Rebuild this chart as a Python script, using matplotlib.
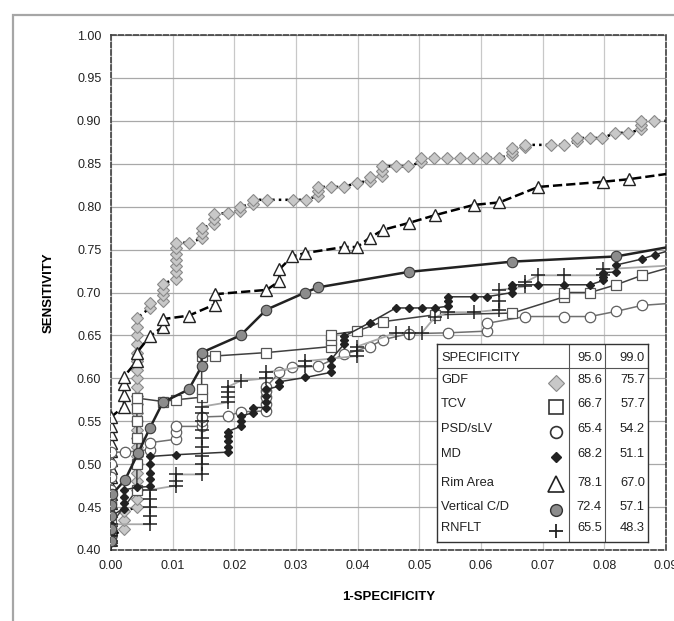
import matplotlib
matplotlib.use("Agg")
import matplotlib.pyplot as plt
from matplotlib.patches import Rectangle

plt.rcParams['font.family'] = ['Liberation Sans', 'DejaVu Sans']

# ROC points (1-specificity, sensitivity)
gdf_x = [0.0, 0.0021, 0.0021, 0.0021,
         0.0042, 0.0042, 0.0042, 0.0042, 0.0042, 0.0042, 0.0042, 0.0042, 0.0042, 0.0042, 0.0042, 0.0042,
         0.0042, 0.0042, 0.0042, 0.0042, 0.0042, 0.0042, 0.0042, 0.0042, 0.0042, 0.0042, 0.0042,
         0.0063, 0.0063, 0.0084, 0.0084, 0.0084, 0.0084,
         0.0105, 0.0105, 0.0105, 0.0105, 0.0105, 0.0105, 0.0105,
         0.0127, 0.0147, 0.0147, 0.0147, 0.0167, 0.0167, 0.0167, 0.019, 0.0209, 0.0209,
         0.023, 0.023, 0.0253, 0.0295, 0.0316, 0.0336, 0.0336, 0.0336, 0.0357, 0.0378,
         0.0399, 0.042, 0.042, 0.044, 0.044, 0.044, 0.0462, 0.0482, 0.0503, 0.0503,
         0.0524, 0.0545, 0.0566, 0.0587, 0.0608, 0.0629, 0.065, 0.065, 0.065, 0.0671, 0.0671,
         0.0713, 0.0734, 0.0755, 0.0755, 0.0776, 0.0797, 0.0818, 0.0839,
         0.086, 0.086, 0.086, 0.0881, 0.092]
gdf_y = [0.415, 0.425, 0.435, 0.445,
         0.45, 0.46, 0.47, 0.48, 0.49, 0.50, 0.51, 0.52, 0.53, 0.54, 0.55, 0.56,
         0.57, 0.58, 0.59, 0.60, 0.61, 0.62, 0.63, 0.64, 0.65, 0.66, 0.67,
         0.682, 0.688, 0.69, 0.697, 0.703, 0.71,
         0.716, 0.724, 0.731, 0.738, 0.745, 0.752, 0.758,
         0.758, 0.763, 0.769, 0.775, 0.78, 0.786, 0.791, 0.793, 0.795, 0.80,
         0.803, 0.808, 0.808, 0.808, 0.808, 0.813, 0.818, 0.823, 0.823, 0.823,
         0.828, 0.83, 0.834, 0.836, 0.841, 0.847, 0.847, 0.847, 0.852, 0.857,
         0.857, 0.857, 0.857, 0.857, 0.857, 0.857, 0.86, 0.864, 0.868, 0.869, 0.872,
         0.872, 0.872, 0.876, 0.88, 0.88, 0.88, 0.886, 0.886,
         0.89, 0.895, 0.90, 0.90, 0.90]

rim_x = [0.0, 0.0, 0.0, 0.0, 0.0, 0.0, 0.0, 0.0, 0.0, 0.0, 0.0, 0.0, 0.0, 0.0, 0.0,
         0.0021, 0.0021, 0.0021, 0.0021, 0.0042, 0.0042, 0.0063, 0.0084, 0.0084,
         0.0126, 0.0168, 0.0168, 0.0252, 0.0273, 0.0273, 0.0294, 0.0315, 0.0378, 0.0399,
         0.042, 0.0441, 0.0483, 0.0525, 0.0588, 0.063, 0.0693, 0.0798, 0.084, 0.092]
rim_y = [0.415, 0.425, 0.435, 0.445, 0.455, 0.465, 0.475, 0.485, 0.495, 0.505, 0.515, 0.525, 0.535, 0.545, 0.555,
         0.567, 0.581, 0.593, 0.602, 0.62, 0.63, 0.649, 0.66, 0.669,
         0.673, 0.686, 0.698, 0.703, 0.713, 0.727, 0.742, 0.746, 0.753, 0.753,
         0.764, 0.773, 0.781, 0.79, 0.802, 0.805, 0.823, 0.829, 0.832, 0.840]

vcd_x = [0.0, 0.0, 0.0, 0.0, 0.0002, 0.0023, 0.0044, 0.0063, 0.0084, 0.0126, 0.0147, 0.0147,
         0.021, 0.0252, 0.0315, 0.0336, 0.0483, 0.0651, 0.0819, 0.092]
vcd_y = [0.41, 0.425, 0.44, 0.452, 0.465, 0.482, 0.513, 0.542, 0.572, 0.587, 0.614, 0.63,
         0.65, 0.68, 0.70, 0.706, 0.724, 0.736, 0.742, 0.755]

tcv_x = [0.0, 0.0, 0.0042, 0.0042, 0.0042, 0.0042, 0.0042, 0.0042, 0.0084, 0.0105,
         0.0147, 0.0147, 0.0147, 0.0168, 0.0252, 0.0357, 0.0357, 0.0357, 0.0399, 0.0441,
         0.0525, 0.0651, 0.0735, 0.0735, 0.0777, 0.0819, 0.0861, 0.092]
tcv_y = [0.41, 0.43, 0.47, 0.50, 0.53, 0.55, 0.565, 0.577, 0.573, 0.575,
         0.578, 0.588, 0.626, 0.626, 0.63, 0.637, 0.645, 0.651, 0.655, 0.666,
         0.674, 0.676, 0.695, 0.70, 0.70, 0.709, 0.72, 0.732]

psd_x = [0.0, 0.0, 0.0, 0.0, 0.0, 0.0, 0.0, 0.0, 0.0023, 0.0063, 0.0063,
         0.0105, 0.0105, 0.0105, 0.0147, 0.0147, 0.0147, 0.019, 0.021,
         0.0252, 0.0252, 0.0252, 0.0252, 0.0252, 0.0273, 0.0294, 0.0336, 0.0378,
         0.042, 0.0441, 0.0483, 0.0546, 0.0609, 0.0609, 0.0672, 0.0735, 0.0777,
         0.0819, 0.0861, 0.092]
psd_y = [0.41, 0.425, 0.44, 0.455, 0.47, 0.485, 0.50, 0.514, 0.514, 0.517, 0.525,
         0.529, 0.537, 0.544, 0.544, 0.55, 0.555, 0.556, 0.561,
         0.562, 0.57, 0.578, 0.585, 0.59, 0.607, 0.613, 0.614, 0.628,
         0.637, 0.645, 0.652, 0.653, 0.655, 0.664, 0.672, 0.672, 0.672,
         0.678, 0.685, 0.688]

md_x = [0.0, 0.0, 0.0, 0.0, 0.0021, 0.0021, 0.0021, 0.0021, 0.0042,
        0.0063, 0.0063, 0.0063, 0.0063, 0.0063, 0.0105,
        0.0189, 0.0189, 0.0189, 0.0189, 0.0189, 0.021, 0.021, 0.021, 0.0231, 0.0231,
        0.0252, 0.0252, 0.0252, 0.0252, 0.0273, 0.0273, 0.0315, 0.0357, 0.0357, 0.0357,
        0.0378, 0.0378, 0.0378, 0.042, 0.0462, 0.0483, 0.0504, 0.0525,
        0.0546, 0.0546, 0.0546, 0.0588, 0.0609, 0.0651, 0.0651, 0.0651,
        0.0693, 0.0735, 0.0777, 0.0798, 0.0798, 0.0798, 0.0819, 0.0819, 0.0861, 0.0882, 0.092]
md_y = [0.41, 0.42, 0.43, 0.44, 0.448, 0.455, 0.462, 0.47, 0.473,
        0.474, 0.483, 0.49, 0.50, 0.509, 0.511,
        0.514, 0.52, 0.527, 0.533, 0.538, 0.544, 0.55, 0.556, 0.56, 0.566,
        0.566, 0.573, 0.58, 0.587, 0.591, 0.596, 0.601, 0.607, 0.614, 0.622,
        0.64, 0.645, 0.649, 0.665, 0.682, 0.682, 0.682, 0.682,
        0.684, 0.69, 0.695, 0.695, 0.695, 0.70, 0.705, 0.709,
        0.709, 0.709, 0.709, 0.714, 0.718, 0.723, 0.724, 0.732, 0.739, 0.744, 0.752]

rnf_x = [0.0, 0.0, 0.0, 0.0, 0.0, 0.0063, 0.0063, 0.0063, 0.0063, 0.0063,
         0.0105, 0.0105, 0.0105, 0.0147, 0.0147, 0.0147, 0.0147, 0.0147, 0.0147, 0.0147,
         0.0147, 0.0147, 0.0189, 0.0189, 0.0189, 0.0189, 0.021, 0.0252, 0.0252,
         0.0315, 0.0315, 0.0399, 0.0399, 0.0399, 0.0462, 0.0483, 0.0504, 0.0525,
         0.0546, 0.0588, 0.063, 0.063, 0.063, 0.0672, 0.0672, 0.0693, 0.0735,
         0.0798, 0.0798, 0.092]
rnf_y = [0.405, 0.41, 0.416, 0.422, 0.43, 0.43, 0.44, 0.45, 0.46, 0.47,
         0.475, 0.48, 0.488, 0.488, 0.50, 0.51, 0.52, 0.53, 0.54, 0.55,
         0.56, 0.567, 0.572, 0.578, 0.584, 0.59, 0.597, 0.60, 0.607,
         0.614, 0.62, 0.626, 0.632, 0.637, 0.653, 0.653, 0.653, 0.671,
         0.677, 0.677, 0.68, 0.69, 0.703, 0.707, 0.712, 0.72, 0.72,
         0.72, 0.727, 0.732]

# table values
names = ["GDF", "TCV", "PSD/sLV", "MD", "Rim Area", "Vertical C/D", "RNFLT"]
spec95 = ["85.6", "66.7", "65.4", "68.2", "78.1", "72.4", "65.5"]
spec99 = ["75.7", "57.7", "54.2", "51.1", "67.0", "57.1", "48.3"]

W, H = 674, 621
fig = plt.figure(figsize=(W / 100, H / 100), dpi=100)
fig.patch.set_facecolor("white")

# outer grey frame (runs off the right and bottom edges)
fig.add_artist(Rectangle((13 / W, -0.2), 1.2, 1 - 15 / H + 0.2, transform=fig.transFigure,
                         fill=False, edgecolor="#a6a6a6", lw=1.6))

ax = fig.add_axes([111 / W, 1 - 550 / H, (666 - 111) / W, (550 - 35) / H])
ax.set_xlim(0, 0.09)
ax.set_ylim(0.40, 1.00)
ax.set_xticks([0.00, 0.01, 0.02, 0.03, 0.04, 0.05, 0.06, 0.07, 0.08, 0.09])
ax.set_yticks([0.40, 0.45, 0.50, 0.55, 0.60, 0.65, 0.70, 0.75, 0.80, 0.85, 0.90, 0.95, 1.00])
ax.xaxis.set_major_formatter(matplotlib.ticker.FormatStrFormatter("%.2f"))
ax.yaxis.set_major_formatter(matplotlib.ticker.FormatStrFormatter("%.2f"))
ax.tick_params(length=0, labelsize=9, colors="#222222", pad=7)
for g in ax.get_xticks():
    ax.axvline(g, color="#c8c8c8", lw=0.9, zorder=0)
for g in ax.get_yticks():
    ax.axhline(g, color="#a8a8a8", lw=0.9, zorder=0)
for s in ax.spines.values():
    s.set_linestyle((0, (3, 1.5)))
    s.set_color("#404040")
    s.set_linewidth(1.2)

ax.plot(gdf_x, gdf_y, color="black", ls=":", lw=1.8, marker="D", ms=6.5,
        mfc="#c8c8c8", mec="#8a8a8a", mew=0.8, zorder=2)
ax.plot(rim_x, rim_y, color="black", ls="--", lw=1.8, marker="^", ms=9,
        mfc="white", mec="#222222", mew=1.0, zorder=3)
ax.plot(psd_x, psd_y, color="#707070", lw=1.1, marker="o", ms=7.5,
        mfc="white", mec="#606060", mew=0.9, zorder=4)
ax.plot(tcv_x, tcv_y, color="#404040", lw=1.1, marker="s", ms=7.5,
        mfc="white", mec="#555555", mew=0.9, zorder=4)
ax.plot(rnf_x, rnf_y, color="#a8a8a8", lw=1.3, marker="+", ms=10,
        mec="#222222", mew=1.1, zorder=5)
ax.plot(md_x, md_y, color="#333333", lw=1.1, marker="D", ms=3.8,
        mfc="#222222", mec="#222222", zorder=5)
ax.plot(vcd_x, vcd_y, color="#222222", lw=1.8, marker="o", ms=7.5,
        mfc="#8c8c8c", mec="#3a3a3a", mew=0.8, zorder=6)

ax.set_xlabel("1-SPECIFICITY", fontsize=9.5, fontweight="bold", labelpad=14)
ax.set_ylabel("SENSITIVITY", fontsize=9.5, fontweight="bold", labelpad=16)

# table box drawn in pixel units
tx0, tx1, ty0, ty1 = 437, 648, 344, 542
tb = fig.add_axes([tx0 / W, 1 - ty1 / H, (tx1 - tx0) / W, (ty1 - ty0) / H], zorder=10)
tb.set_xlim(tx0, tx1)
tb.set_ylim(ty1, ty0)
tb.set_xticks([])
tb.set_yticks([])
tb.set_facecolor("white")
for s in tb.spines.values():
    s.set_color("#333333")
    s.set_linewidth(1.0)
tb.axhline(368, color="#555555", lw=0.8)
tb.axvline(569, color="#555555", lw=0.8)
tb.axvline(605, color="#555555", lw=0.8)
fs = 9.3
tb.text(441, 358, "SPECIFICITY", fontsize=fs, va="center", color="#222222")
tb.text(602, 358, "95.0", fontsize=fs, va="center", ha="right", color="#222222")
tb.text(645, 358, "99.0", fontsize=fs, va="center", ha="right", color="#222222")
row_y = [383, 407, 432, 457, 486, 510, 531]
for n, a, b, yy in zip(names, spec95, spec99, row_y):
    tb.text(441, yy - 3, n, fontsize=fs, va="center", color="#222222")
    tb.text(602, yy - 3, a, fontsize=fs, va="center", ha="right", color="#222222")
    tb.text(645, yy - 3, b, fontsize=fs, va="center", ha="right", color="#222222")
mx = 556
tb.plot(mx, row_y[0], marker="D", ms=8, mfc="#c8c8c8", mec="#8a8a8a", mew=0.8)
tb.plot(mx, row_y[1], marker="s", ms=9.5, mfc="white", mec="#333333", mew=1.2)
tb.plot(mx, row_y[2], marker="o", ms=8.5, mfc="white", mec="#333333", mew=1.2)
tb.plot(mx, row_y[3], marker="D", ms=5, mfc="#222222", mec="#222222")
tb.plot(mx, row_y[4] - 2, marker="^", ms=12, mfc="white", mec="#222222", mew=1.2)
tb.plot(mx, row_y[5], marker="o", ms=8.5, mfc="#8c8c8c", mec="#333333", mew=1.0)
tb.plot(mx, row_y[6], marker="+", ms=10, mec="#222222", mew=1.3)

fig.savefig("out.png", dpi=100)
